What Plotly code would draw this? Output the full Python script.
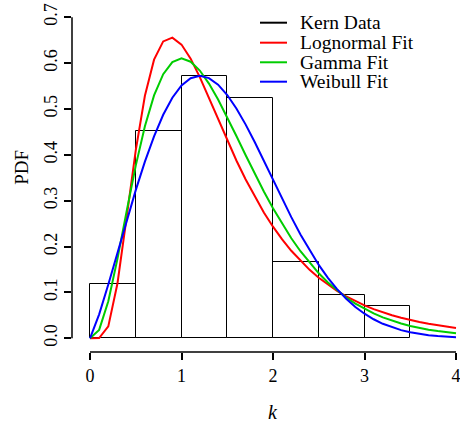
import plotly.graph_objects as go

# ---------------- data ----------------
bin_centers = [0.25, 0.75, 1.25, 1.75, 2.25, 2.75, 3.25]
kern_density = [0.118, 0.451, 0.571, 0.523, 0.166, 0.0945, 0.0705]

k_grid = [0.0, 0.1, 0.2, 0.3, 0.4, 0.5, 0.6, 0.7, 0.8, 0.9,
          1.0, 1.1, 1.2, 1.3, 1.4, 1.5, 1.6, 1.7, 1.8, 1.9,
          2.0, 2.1, 2.2, 2.3, 2.4, 2.5, 2.6, 2.7, 2.8, 2.9,
          3.0, 3.1, 3.2, 3.3, 3.4, 3.5, 3.6, 3.7, 3.8, 3.9, 4.0]

lognormal_pdf = [0.0, 0.0006, 0.026, 0.1195, 0.263, 0.410, 0.529, 0.6076, 0.6474, 0.6557,
                 0.6405, 0.6098, 0.5695, 0.5245, 0.4778, 0.4318, 0.3878, 0.3467, 0.3089, 0.2745,
                 0.2434, 0.2156, 0.1908, 0.1688, 0.1492, 0.1320, 0.1168, 0.1033, 0.0915, 0.0810,
                 0.0718, 0.0637, 0.0565, 0.0502, 0.0447, 0.0397, 0.0354, 0.0316, 0.0282, 0.0252, 0.0225]

gamma_pdf = [0.0, 0.0183, 0.0807, 0.1731, 0.2768, 0.3766, 0.4626, 0.5297, 0.5760, 0.6022,
             0.6103, 0.6032, 0.5839, 0.5555, 0.5207, 0.4818, 0.4410, 0.3996, 0.3590, 0.3201,
             0.2834, 0.2493, 0.2181, 0.1898, 0.1645, 0.1418, 0.1218, 0.1043, 0.0889, 0.0756,
             0.0641, 0.0542, 0.0457, 0.0384, 0.0322, 0.0270, 0.0226, 0.0188, 0.0157, 0.0130, 0.0108]

weibull_pdf = [0.0, 0.0523, 0.1175, 0.1866, 0.2561, 0.3231, 0.3852, 0.4405, 0.4874, 0.5246,
               0.5513, 0.5671, 0.5724, 0.5674, 0.5530, 0.5305, 0.5012, 0.4665, 0.4280, 0.3872,
               0.3455, 0.3042, 0.2642, 0.2264, 0.1916, 0.1600, 0.1319, 0.1073, 0.0862, 0.0684,
               0.0536, 0.0415, 0.0316, 0.0239, 0.0178, 0.0131, 0.0095, 0.0068, 0.0048, 0.0034, 0.0023]

x_ticks = [0, 1, 2, 3, 4]
x_tick_labels = ["0", "1", "2", "3", "4"]
y_ticks = [0.0, 0.1, 0.2, 0.3, 0.4, 0.5, 0.6, 0.7]
y_tick_labels = ["0.0", "0.1", "0.2", "0.3", "0.4", "0.5", "0.6", "0.7"]

legend_labels = ["Kern Data", "Lognormal Fit", "Gamma Fit", "Weibull Fit"]
legend_colors = ["black", "#FF0000", "#00CD00", "#0000FF"]

# ---------------- figure ----------------
TICK_FONT = dict(family="Liberation Serif", size=18, color="black")
TEXT_FONT = dict(family="Liberation Serif", size=19.5, color="black")

fig = go.Figure()

fig.add_trace(go.Bar(
    x=bin_centers, y=kern_density, width=0.5,
    marker=dict(color="rgba(0,0,0,0)", line=dict(color="black", width=1)),
    showlegend=False, hoverinfo="x+y"))

for ys, col in zip([lognormal_pdf, gamma_pdf, weibull_pdf], legend_colors[1:]):
    fig.add_trace(go.Scatter(x=k_grid, y=ys, mode="lines",
                             line=dict(color=col, width=2), showlegend=False))

shapes = [
    # R-style axis lines spanning only the tick range
    dict(type="line", xref="x", yref="paper", x0=x_ticks[0], x1=x_ticks[-1], y0=0, y1=0,
         line=dict(color="black", width=1.5)),
    dict(type="line", xref="paper", yref="y", x0=0, x1=0, y0=y_ticks[0], y1=y_ticks[-1],
         line=dict(color="black", width=1.5)),
]
annotations = []

# manual legend (R style)
leg_rows = [0.949, 0.8914, 0.8349, 0.7790]
for lab, col, yy in zip(legend_labels, legend_colors, leg_rows):
    shapes.append(dict(type="line", xref="paper", yref="paper",
                       x0=0.4845, x1=0.5541, y0=yy, y1=yy,
                       line=dict(color=col, width=2)))
    annotations.append(dict(xref="paper", yref="paper", x=0.5825, y=yy, text=lab,
                            showarrow=False, xanchor="left", yanchor="middle",
                            font=TEXT_FONT))

annotations.append(dict(xref="paper", yref="paper", x=-0.1322, y=0.533, text="PDF",
                        textangle=-90, showarrow=False, xanchor="center", yanchor="middle",
                        font=dict(family="Liberation Serif", size=19, color="black")))
annotations.append(dict(xref="x", yref="paper", x=2, y=-0.172, text="<i>k</i>",
                        showarrow=False, xanchor="center", yanchor="middle",
                        font=dict(family="Liberation Serif", size=20, color="black")))

fig.update_layout(
    width=460, height=423,
    margin=dict(l=72, r=0, t=5, b=71),
    paper_bgcolor="white", plot_bgcolor="white",
    bargap=0,
    shapes=shapes, annotations=annotations,
    xaxis=dict(range=[-0.1967, 4.0437], tickvals=x_ticks, ticktext=x_tick_labels,
               ticks="outside", ticklen=7, tickwidth=1.5, tickcolor="black",
               ticklabeloverflow="allow",
               showgrid=False, zeroline=False, showline=False, tickfont=TICK_FONT),
    yaxis=dict(range=[-0.02988, 0.72682], tickvals=y_ticks, ticktext=y_tick_labels,
               ticks="outside", ticklen=7, tickwidth=1.5, tickcolor="black",
               tickangle=-90,
               showgrid=False, zeroline=False, showline=False, tickfont=TICK_FONT),
)

fig.write_html("out.html")
